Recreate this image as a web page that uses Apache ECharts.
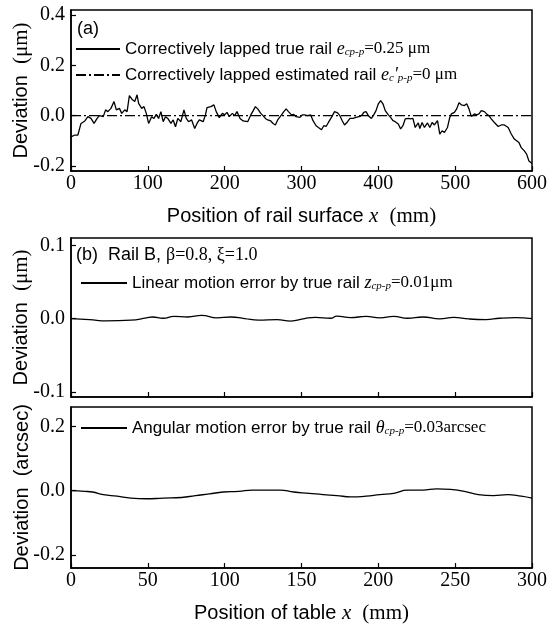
<!DOCTYPE html>
<html>
<head>
<meta charset="utf-8">
<script src="https://cdn.jsdelivr.net/npm/echarts@6/dist/echarts.min.js"></script>
<style>html,body{margin:0;padding:0;background:#fff;}#c{width:551px;height:628px;}</style>
</head>
<body>
<div id="c"></div>
<script>
// ---- Panel (a): rail surface profile ----
const railX = [0,5,9,13,18,22,26,30,34,37,42,45,48,52,56,59,63,66,70,73,76,80,83,86,88,92,95,98,101,105,108,111,114,117,120,123,126,130,133,136,139,143,147,150,153,157,161,164,167,172,175,177,182,186,189,193,197,200,203,206,210,213,216,220,224,230,234,237,240,243,247,250,253,256,260,263,266,269,274,277,280,283,287,290,293,298,301,
304,308,312,315,319,322,326,329,332,335,339,343,347,350,353,356,360,363,367,371,376,379,381,384,387,391,394,397,400,403,406,409,413,416,419,422,426,429,432,435,439,442,445,448,452,454,457,460,464,467,470,473,477,480,483,486,490,493,495,499,502,505,508,512,515,518,521,525,528,531,534,538,541,544,547,551,556,560,564,569,573,577,580,583,586,590,593,596,600];
const trueRail = [-0.084,-0.077,-0.077,-0.031,-0.021,-0.004,-0.011,-0.031,-0.011,0,-0.004,0.023,0.016,0.029,0.056,0.023,0.029,0.009,0.023,0.016,0.08,0.063,0.056,0.083,0.049,0.029,0.036,0.009,-0.031,-0.004,-0.011,0.005,-0.011,0.016,-0.024,-0.004,-0.011,-0.031,-0.017,-0.044,-0.011,-0.024,0.023,-0.011,-0.024,-0.017,-0.051,-0.031,-0.017,-0.024,0.003,0.032,0.036,0.043,0.016,-0.008,0.009,0.003,0.013,-0.004,0.009,0,0.016,-0.011,-0.021,-0.024,0.003,0.019,0.036,0.027,0.009,0,-0.011,-0.017,-0.021,-0.031,-0.037,-0.017,0.003,0.016,0.027,0.016,0.003,0.005,-0.004,-0.007,0.003,
0.003,0,0.003,-0.02,-0.04,-0.047,-0.056,-0.04,-0.043,-0.027,-0.007,0.016,0.011,0,-0.02,-0.037,-0.024,-0.011,-0.011,-0.007,-0.003,0.003,0.013,0.016,0,-0.011,0.003,0.02,0.047,0.06,0.047,0.02,0.003,-0.007,-0.02,-0.024,-0.033,-0.053,-0.04,-0.013,-0.011,-0.013,-0.011,-0.047,-0.029,-0.051,-0.027,-0.047,-0.029,-0.047,-0.027,-0.037,-0.02,-0.073,-0.06,-0.067,-0.047,-0.007,0.007,0.013,0.027,0.051,0.043,0.04,0.047,0.027,-0.003,0.007,0.003,0.007,0.02,0.016,0.007,0,-0.013,-0.027,-0.043,-0.037,-0.037,-0.047,-0.073,-0.093,-0.1,-0.107,-0.127,-0.14,-0.153,-0.18,-0.19];
const estX = [0, 600];
const estRail = [0, 0];
const ticksA_x = [0,100,200,300,400,500,600];
const ticksA_y = [-0.2,0,0.2,0.4];

// ---- Panel (b): linear motion error ----
const linX = [0,12,23,39,49,53,60,67,76,85,95,104,113,122,134,143,152,159,169,173,182,192,201,210,219,229,240,249,259,270,279,289,300];
const linErr = [0,-0.0013,-0.0031,-0.0022,0.0009,0.0022,0.0005,0.0031,0.0022,0.0043,0.0009,0.0022,0,-0.0022,-0.0013,-0.0034,0,0.0017,0.0005,0.0034,0.0013,0.0031,0.0009,0.0031,0.0005,0.0022,-0.0005,0.0017,-0.0005,-0.0013,0.0005,0.0013,0];
const ticksB_y = [-0.1,0,0.1];

// ---- Panel (c): angular motion error ----
const angX = [0,9,14,21,30,39,49,60,72,81,90,99,109,118,127,136,145,155,164,173,182,192,201,210,219,229,238,247,256,265,275,284,293,300];
const angErr = [0,-0.002,-0.004,-0.012,-0.017,-0.023,-0.025,-0.023,-0.021,-0.015,-0.01,-0.004,-0.002,0.002,0.002,0.002,-0.004,-0.008,-0.012,-0.015,-0.019,-0.017,-0.012,-0.008,0.002,0.002,0.006,0.004,-0.002,-0.012,-0.015,-0.012,-0.017,-0.023];
const ticksBC_x = [0,50,100,150,200,250,300];
const ticksC_y = [-0.2,0,0.2];

const SANS = 'Liberation Sans';
const SERIF = 'Liberation Serif';
const zip = (xs, ys) => xs.map((x, i) => [x, ys[i]]);

const richBase = {
  s: {fontFamily: SANS, fontSize: 17, color: '#000', fontWeight: 'normal'},
  i: {fontFamily: SERIF, fontStyle: 'italic', fontSize: 18, color: '#000', fontWeight: 'normal'},
  sub: {fontFamily: SERIF, fontStyle: 'italic', fontSize: 11, color: '#000', verticalAlign: 'bottom', padding: [6,0,0,0], fontWeight: 'normal'},
  r: {fontFamily: SERIF, fontSize: 17, color: '#000', fontWeight: 'normal'}
};
const nameRich = {
  s: {fontFamily: SANS, fontSize: 20, color: '#000'},
  i: {fontFamily: SERIF, fontStyle: 'italic', fontSize: 21, color: '#000'},
  r: {fontFamily: SERIF, fontSize: 21, color: '#000'}
};

const G = [
  {left: 71, right: 19, top: 10, height: 161},
  {left: 71, right: 19, top: 238, height: 159},
  {left: 71, right: 19, top: 407, height: 161}
].map(g => Object.assign(g, {show: true, borderColor: '#000', borderWidth: 1.5, containLabel: false, outerBoundsMode: 'none'}));

function xAx(idx, max, interval, ticks, showLabels, name) {
  return {
    type: 'value', gridIndex: idx, min: 0, max: max, interval: interval,
    axisLine: {show: true, onZero: false, lineStyle: {color: '#000', width: 1.5}},
    axisTick: {show: true, inside: true, length: 5, lineStyle: {color: '#000', width: 1.2}, customValues: ticks},
    axisLabel: {show: showLabels, customValues: ticks, margin: 3, fontFamily: SERIF, fontSize: 20, color: '#000'},
    splitLine: {show: false},
    name: name || '', nameLocation: 'middle', nameGap: 35, nameMoveOverlap: false,
    nameTextStyle: {rich: nameRich}
  };
}
function yAx(idx, min, max, ticks, name) {
  return {
    type: 'value', gridIndex: idx, min: min, max: max,
    axisLine: {show: true, onZero: false, lineStyle: {color: '#000', width: 1.5}},
    axisTick: {show: true, inside: true, length: 5, lineStyle: {color: '#000', width: 1.2}, customValues: ticks},
    axisLabel: {customValues: ticks, margin: 6, fontFamily: SERIF, fontSize: 20, color: '#000',
      formatter: v => (Math.abs(v) < 1e-9 ? 0 : v).toFixed(1)},
    splitLine: {show: false},
    name: name, nameLocation: 'middle', nameGap: 39, nameRotate: 90, nameMoveOverlap: false,
    nameTextStyle: {rich: nameRich}
  };
}

const legendText = {
  'true': '{s|Correctively lapped true rail }{i|e}{sub|cp-p}{r|=0.25 μm}',
  'est': '{s|Correctively lapped estimated rail }{i|e}{sub|c}{i|′}{sub|p-p}{r|=0 μm}',
  'lin': '{s|Linear motion error by true rail }{i|z}{sub|cp-p}{r|=0.01μm}',
  'ang': '{s|Angular motion error by true rail }{i|θ}{sub|cp-p}{r|=0.03arcsec}'
};

const lineBase = {type: 'line', showSymbol: false, symbol: 'none', animation: false, lineStyle: {color: '#000', width: 1.3}, itemStyle: {color: '#000'}};
const legendCommon = {padding: 0, itemHeight: 14, selectedMode: false, formatter: n => legendText[n],
  textStyle: {rich: richBase}, itemStyle: {opacity: 0}, lineStyle: {opacity: 1}};

const option = {
  backgroundColor: '#fff',
  animation: false,
  title: [
    {text: '(a)', left: 77, top: 20, padding: 0, textStyle: {fontFamily: SANS, fontSize: 18, fontWeight: 'normal', color: '#000'}},
    {text: '{s|(b)  Rail B, }{r|β=0.8, ξ=1.0}', left: 76, top: 246, padding: 0,
      textStyle: {fontWeight: 'normal', rich: {s: {fontFamily: SANS, fontSize: 18, color: '#000', fontWeight: 'normal'}, r: {fontFamily: SERIF, fontSize: 18, color: '#000', fontWeight: 'normal'}}}}
  ],
  legend: [
    Object.assign({data: ['true', 'est'], orient: 'vertical', left: 75, top: 40, itemGap: 8, itemWidth: 44}, legendCommon),
    Object.assign({data: ['lin'], left: 80, top: 274, itemWidth: 46}, legendCommon),
    Object.assign({data: ['ang'], left: 80, top: 419, itemWidth: 46}, legendCommon)
  ],
  grid: G,
  xAxis: [
    xAx(0, 600, 100, ticksA_x, true, '{s|Position of rail surface }{i|x}{s|  }{r|(mm)}'),
    xAx(1, 300, 50, ticksBC_x, false, ''),
    xAx(2, 300, 50, ticksBC_x, true, '{s|Position of table }{i|x}{s|  }{r|(mm)}')
  ],
  yAxis: [
    yAx(0, -0.22, 0.42, ticksA_y, '{s|Deviation  }{r|(μm)}'),
    yAx(1, -0.107, 0.11, ticksB_y, '{s|Deviation  }{r|(μm)}'),
    yAx(2, -0.24, 0.26, ticksC_y, '{s|Deviation  (arcsec)}')
  ],
  series: [
    Object.assign({}, lineBase, {name: 'true', xAxisIndex: 0, yAxisIndex: 0, data: zip(railX, trueRail)}),
    Object.assign({}, lineBase, {name: 'est', xAxisIndex: 0, yAxisIndex: 0, data: zip(estX, estRail),
      lineStyle: {color: '#000', width: 1.2, type: [10, 3, 2, 3]}}),
    Object.assign({}, lineBase, {name: 'lin', xAxisIndex: 1, yAxisIndex: 1, smooth: 0.5, data: zip(linX, linErr)}),
    Object.assign({}, lineBase, {name: 'ang', xAxisIndex: 2, yAxisIndex: 2, smooth: 0.5, data: zip(angX, angErr)})
  ]
};

const chart = echarts.init(document.getElementById('c'), null, {renderer: 'canvas'});
chart.setOption(option);
</script>
</body>
</html>
